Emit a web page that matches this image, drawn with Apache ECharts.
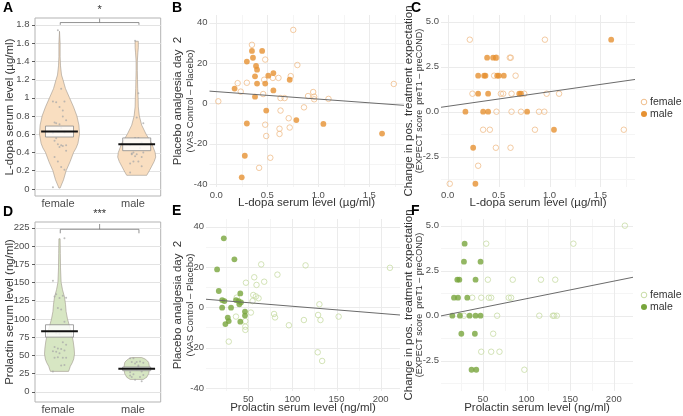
<!DOCTYPE html>
<html>
<head>
<meta charset="utf-8">
<script src="https://cdn.jsdelivr.net/npm/echarts@6/dist/echarts.min.js"></script>
<style>
  html, body { margin: 0; padding: 0; background: #fff; }
  #chart { width: 683px; height: 416px; }
</style>
</head>
<body>
<div id="chart"></div>
<script>
// ---------------- data ----------------
const groups = ['female', 'male'];
const sigLabels = ['*', '***'];

// mean and mean +/- SE boxes
const ldopaMean = [0.63, 0.49];
const ldopaSeLow = [0.57, 0.42];
const ldopaSeHigh = [0.69, 0.56];
const prlMean = [83, 31.5];
const prlSeLow = [75, 29];
const prlSeHigh = [92, 34];

// violin outlines: [level, relative half width]
const ldopaViolinFemale = [[1.73,0],[1.6,0.03],[1.45,0.03],[1.35,0.05],[1.25,0.1],[1.2,0.17],[1.1,0.3],[1.0,0.5],[0.9,0.7],[0.8,0.87],[0.7,0.97],[0.6,1.0],[0.5,0.92],[0.45,0.83],[0.4,0.7],[0.3,0.53],[0.2,0.33],[0.1,0.2],[0.01,0.03]];
const ldopaViolinMale = [[1.62,0.08],[1.55,0.08],[1.5,0.06],[1.4,0.03],[1.3,0.03],[1.2,0.04],[1.1,0.05],[1.0,0.07],[0.9,0.08],[0.8,0.13],[0.7,0.25],[0.6,0.47],[0.5,0.75],[0.4,0.92],[0.35,0.95],[0.3,0.87],[0.25,0.75],[0.2,0.63],[0.15,0.5]];
const prlViolinFemale = [[210,0.03],[190,0.04],[170,0.05],[150,0.08],[140,0.15],[130,0.25],[120,0.3],[110,0.33],[100,0.4],[90,0.5],[80,0.6],[70,0.68],[60,0.73],[52,0.75],[45,0.71],[40,0.64],[35,0.54],[30,0.48],[28,0.45]];
const prlViolinMale = [[47,0.25],[45,0.42],[42,0.55],[40,0.6],[35,0.63],[30,0.63],[25,0.6],[20,0.5],[17,0.33]];

// B: L-dopa vs placebo analgesia
const ldopaPlaceboFemale = [[0.02,1.0],[0.21,10],[0.24,5.8],[0.30,10.2],[0.35,29],[0.48,21.7],[0.47,11.7],[0.46,4.6],[0.555,12.6],[0.61,12.6],[0.63,2.6],[0.67,2.6],[0.63,-3.6],[0.73,13.5],[0.755,36.4],[0.795,19],[0.71,-7.4],[0.72,-12],[0.62,-12.6],[0.62,-15.2],[0.48,-10.6],[0.49,-16.2],[0.53,-27],[0.42,-32],[0.86,-2],[0.90,3.6],[0.95,5.6],[0.96,3.3],[0.96,2],[1.10,2.2],[1.74,9.6]];
const ldopaPlaceboMale = [[0.18,7.3],[0.35,26],[0.30,20.7],[0.36,22.6],[0.39,18.5],[0.40,16.7],[0.45,26],[0.38,13.4],[0.40,9.8],[0.48,9.8],[0.51,13.7],[0.56,15],[0.56,6.4],[0.38,3.3],[0.72,11.7],[0.49,-3.6],[0.785,-8.3],[0.30,-10],[0.28,-26],[0.25,-36.7],[1.05,-10.2],[1.625,-15]];
const fitLdopaPlacebo = [5.8, -3.7];

// C: L-dopa vs change in expectation
const ldopaExpectFemale = [[0.217,4],[0.955,4],[0.479,3],[0.61,3],[0.62,3],[0.456,2],[0.667,2],[0.243,1],[0.522,1],[0.545,1],[0.627,1],[0.752,1],[0.972,1],[1.094,1],[0.479,0],[0.627,0],[0.72,0],[0.897,0],[0.949,0],[0.348,-1],[0.414,-1],[0.857,-1],[1.73,-1],[0.473,-2],[0.617,-2],[0.299,-3],[0.02,-4]];
const ldopaExpectMale = [[1.606,4],[0.387,3],[0.446,3],[0.473,3],[0.299,2],[0.358,2],[0.371,2],[0.486,2],[0.502,2],[0.551,2],[0.299,1],[0.397,1],[0.703,1],[0.72,1],[0.174,0],[0.348,0],[0.397,0],[0.78,0],[1.044,-1],[0.25,-2],[0.272,-4]];
const fitLdopaExpect = [0.30, 0.81];

// E: prolactin vs placebo analgesia
const prlPlaceboFemale = [[27.8,-17],[36.8,4.8],[36,-4.6],[47.3,12.2],[46.6,-6.8],[46.6,-9.6],[46.6,-11.2],[52.9,-2.6],[54.8,3.1],[55.6,6.1],[56.7,14.9],[58.6,5.4],[59.3,11.1],[61.6,4.5],[64.6,21.3],[68,12.7],[79.2,-3.3],[80.3,-5],[83,16.2],[96,-8.9],[113,-6.3],[114.9,20.8],[130.6,1.5],[129.1,-3.8],[131.8,-6.3],[128.7,-22.3],[133.7,-26.6],[152.4,-4.6],[210.6,19.6]];
const prlPlaceboMale = [[22.2,34.2],[14.6,18.8],[34.2,23.8],[16.5,8.1],[20.3,3.6],[22.9,3.1],[20.3,-0.2],[30.4,-0.2],[24,-8.3],[26.7,-5.1],[27.8,-6.8],[36,3.6],[39,3.1],[40.9,6.9],[39.8,1.5],[41.7,2.5],[40.9,-7.1],[46.2,-2.1],[46.2,-4.1]];
const fitPrlPlacebo = [4.07, -0.0355];

// F: prolactin vs change in expectation
const prlExpectFemale = [[212.7,5],[53.8,4],[153.7,4],[55.7,2],[84.2,2],[116.5,2],[132.9,2],[37.8,1],[48.1,1],[56.8,1],[59.5,1],[79.6,1],[82.3,1],[28.3,0],[66.3,0],[114.6,0],[130.2,0],[131.7,0],[134.7,0],[61.8,-1],[48.1,-2],[59.5,-2],[69,-2],[97.5,-3]];
const prlExpectMale = [[29.1,4],[28.3,3],[47.3,3],[20.7,2],[23,2],[41.6,2],[16.9,1],[21.5,1],[32.1,1],[15,0],[23.7,0],[34.8,0],[41.6,0],[47.3,0],[25.3,-1],[40.8,-1],[37,-3],[42.4,-3]];
const fitPrlExpect = [-0.03, 0.00975];

// tick labels / grid breaks
const ldopaTicks = [0, 0.2, 0.4, 0.6, 0.8, 1, 1.2, 1.4, 1.6, 1.8];
const prlTicks = [0, 25, 50, 75, 100, 125, 150, 175, 200, 225];
const ldopaXTicks = [0, 0.5, 1, 1.5];
const ldopaXMinor = [0.25, 0.75, 1.25, 1.75];
const prlXTicks = [50, 100, 150, 200];
const prlXMinor = [25, 75, 125, 175];
const placeboTicks = [-40, -20, 0, 20, 40];
const placeboMinor = [-30, -10, 10, 30];
const expectTicks = [-2.5, 0, 2.5, 5];
const expectMinor = [-3.75, -1.25, 1.25, 3.75];

// ---------------- styling ----------------
const FONT = '"Liberation Sans", Arial, sans-serif';
const ORANGE_F = '#F0BE8C', ORANGE_M = '#E69132', ORANGE_V = '#F9DEC0';
const GREEN_F = '#C8DCA5', GREEN_M = '#78A53C', GREEN_V = '#D7E6C3';
const violinPos = [1.02, 2.05];
const violinHalf = 0.267, boxHalf = 0.187, meanHalf = 0.245;
const ldopaRange = [-0.066, 1.84], prlRange = [2, 222];

const chart = echarts.init(document.getElementById('chart'), null, { renderer: 'canvas' });

function gridSeries(idx, xMajor, xMinor, yMajor, yMinor, majorColor, minorColor) {
  const data = [];
  xMinor.forEach(v => data.push([v, 0, 1]));
  yMinor.forEach(v => data.push([v, 1, 1]));
  xMajor.forEach(v => data.push([v, 0, 0]));
  yMajor.forEach(v => data.push([v, 1, 0]));
  return {
    type: 'custom', xAxisIndex: idx, yAxisIndex: idx, silent: true, z: 1, data,
    renderItem(params, api) {
      const cs = params.coordSys;
      const v = api.value(0);
      const style = { stroke: api.value(2) ? minorColor : majorColor, lineWidth: 1 };
      if (api.value(1) === 0) {
        const x = Math.round(api.coord([v, 0])[0]) + 0.5;
        return { type: 'line', shape: { x1: x, y1: cs.y, x2: x, y2: cs.y + cs.height }, style };
      }
      const y = Math.round(api.coord([0, v])[1]) + 0.5;
      return { type: 'line', shape: { x1: cs.x, y1: y, x2: cs.x + cs.width, y2: y }, style };
    }
  };
}

// y tick labels drawn next to the panel through its own scale
function yLabelSeries(idx, values, fmt, margin) {
  return {
    type: 'custom', xAxisIndex: idx, yAxisIndex: idx, silent: true, z: 8,
    data: values.map(v => [0, v]),
    renderItem(params, api) {
      const cs = params.coordSys;
      const v = api.value(1);
      const y = api.coord([0, v])[1];
      return { type: 'text', x: cs.x - margin, y,
        style: { text: fmt(v), font: '9.5px ' + FONT, fill: '#4D4D4D',
          align: 'right', verticalAlign: 'middle', textAlign: 'right', textVerticalAlign: 'middle' } };
    }
  };
}

function violinSeries(idx, profiles, fill) {
  return {
    type: 'custom', xAxisIndex: idx, yAxisIndex: idx, silent: true, z: 2,
    data: violinPos.map((c, i) => [c, i]),
    renderItem(params, api) {
      const c = api.value(0);
      const prof = profiles[params.dataIndex];
      const right = prof.map(p => api.coord([c + p[1] * violinHalf, p[0]]));
      const left = prof.slice().reverse().map(p => api.coord([c - p[1] * violinHalf, p[0]]));
      return { type: 'polygon', shape: { points: right.concat(left) },
        style: { fill, stroke: '#9d968c', lineWidth: 0.6 } };
    }
  };
}

function jitterSeries(idx, values) {
  const data = [];
  values.forEach((vals, g) => vals.forEach((v, i) => {
    data.push([violinPos[g] + (((i * 7) % 9) - 4) * 0.022, v]);
  }));
  return { type: 'scatter', xAxisIndex: idx, yAxisIndex: idx, silent: true, z: 3,
    symbolSize: 2, data, itemStyle: { color: '#a8a8a8', opacity: 0.75 } };
}

function boxSeries(idx, low, high, mean) {
  return {
    type: 'custom', xAxisIndex: idx, yAxisIndex: idx, silent: true, z: 4,
    data: violinPos.map((c, i) => [c, mean[i], low[i], high[i]]),
    renderItem(params, api) {
      const c = api.value(0);
      const p1 = api.coord([c - boxHalf, api.value(3)]);
      const p2 = api.coord([c + boxHalf, api.value(2)]);
      const m1 = api.coord([c - meanHalf, api.value(1)]);
      const m2 = api.coord([c + meanHalf, api.value(1)]);
      return { type: 'group', children: [
        { type: 'rect', shape: { x: p1[0], y: p1[1], width: p2[0] - p1[0], height: p2[1] - p1[1] },
          style: { fill: 'rgba(255,255,255,0.8)', stroke: '#8a8a8a', lineWidth: 0.8 } },
        { type: 'line', shape: { x1: m1[0], y1: m1[1], x2: m2[0], y2: m2[1] },
          style: { stroke: '#111', lineWidth: 2 } }
      ] };
    }
  };
}

function bracketSeries(idx, label, yEnd, yBar, yTip, yText) {
  return {
    type: 'custom', xAxisIndex: idx, yAxisIndex: idx, silent: true, z: 5,
    data: [[1.03, yBar]],
    renderItem(params, api) {
      const a = api.coord([1.03, yEnd]), b = api.coord([1.03, yBar]);
      const c = api.coord([2.08, yBar]), d = api.coord([2.08, yEnd]);
      const mid = (b[0] + c[0]) / 2;
      const tip = api.coord([1.5, yTip])[1];
      const t = api.coord([1.5, yText])[1];
      const st = { stroke: '#777', lineWidth: 0.8, fill: null };
      return { type: 'group', children: [
        { type: 'polyline', shape: { points: [a, b, c, d] }, style: st },
        { type: 'line', shape: { x1: mid, y1: b[1], x2: mid, y2: tip }, style: st },
        { type: 'text', x: mid, y: t, style: { text: label, font: '11px ' + FONT, fill: '#333',
          align: 'center', verticalAlign: 'middle', textAlign: 'center', textVerticalAlign: 'middle' } }
      ] };
    }
  };
}

function scatter(idx, name, data, open, color) {
  return {
    type: 'scatter', name, xAxisIndex: idx, yAxisIndex: idx, z: 6, silent: true, data,
    symbolSize: open ? 5.5 : 5.8,
    itemStyle: open ? { color: 'rgba(255,255,255,0)', borderColor: color, borderWidth: 1 }
                    : { color: color, borderWidth: 0 }
  };
}

function fitLine(idx, fit, xr) {
  return {
    type: 'line', xAxisIndex: idx, yAxisIndex: idx, silent: true, z: 7, symbol: 'none',
    data: xr.map(x => [x, fit[0] + fit[1] * x]),
    lineStyle: { color: '#6b6b6b', width: 1 }
  };
}

const f1 = v => String(Math.round(v * 10) / 10);
const fFix = v => (Math.round(v * 10) / 10).toFixed(1);
const fInt = v => String(Math.round(v));

function axis(idx, min, max, labels, fmt, opts) {
  opts = opts || {};
  return {
    type: 'value', gridIndex: idx, min, max,
    axisLine: { show: false },
    axisTick: opts.ticks ? { show: true, customValues: labels, length: 3, lineStyle: { color: '#333', width: 0.8 } } : { show: false },
    splitLine: { show: false },
    axisLabel: { show: !opts.noLabel, customValues: labels, formatter: fmt, color: '#4D4D4D', fontFamily: FONT,
      fontSize: opts.size || 9.5, margin: opts.margin == null ? 3 : opts.margin, hideOverlap: false }
  };
}

function text(x, y, str, size, opts) {
  opts = opts || {};
  return { type: 'text', x, y, rotation: opts.rot ? Math.PI / 2 : 0, silent: true,
    style: { text: str, font: (opts.bold ? 'bold ' : '') + size + 'px ' + FONT, fill: opts.color || '#333',
      align: opts.align || 'center', verticalAlign: opts.valign || 'middle',
      textAlign: opts.align || 'center', textVerticalAlign: opts.valign || 'middle' } };
}

function legend(x, y, colF, colM) {
  return [
    { type: 'circle', shape: { cx: x, cy: y, r: 2.8 }, style: { fill: 'none', stroke: colF, lineWidth: 1 }, silent: true },
    { type: 'circle', shape: { cx: x, cy: y + 12, r: 3 }, style: { fill: colM }, silent: true },
    text(x + 6, y, 'female', 10.5, { align: 'left', color: '#333' }),
    text(x + 6, y + 12, 'male', 10.5, { align: 'left', color: '#333' })
  ];
}

const option = {
  animation: false,
  backgroundColor: '#fff',
  grid: [
    { left: 35, top: 18, width: 125.7, height: 178, show: true, borderColor: '#B3B3B3', borderWidth: 1, backgroundColor: 'transparent' },
    { left: 209.5, top: 15, width: 194.5, height: 172 },
    { left: 441, top: 15, width: 194, height: 172 },
    { left: 35, top: 222, width: 125.7, height: 180, show: true, borderColor: '#B3B3B3', borderWidth: 1, backgroundColor: 'transparent' },
    { left: 206, top: 219, width: 194, height: 172 },
    { left: 441, top: 219, width: 192, height: 172 }
  ],
  xAxis: [
    axis(0, 0.693, 2.37, [1, 2], v => groups[Math.round(v) - 1], { size: 11, margin: 2 }),
    axis(1, ldopaRange[0], ldopaRange[1], ldopaXTicks, fFix),
    axis(2, ldopaRange[0], ldopaRange[1], ldopaXTicks, fFix),
    axis(3, 0.693, 2.37, [1, 2], v => groups[Math.round(v) - 1], { size: 11, margin: 2 }),
    axis(4, prlRange[0], prlRange[1], prlXTicks, fInt),
    axis(5, prlRange[0], prlRange[1], prlXTicks, fInt)
  ],
  yAxis: [
    axis(0, -0.077, 1.875, ldopaTicks, f1, { ticks: true, margin: 5.5 }),
    axis(1, -41.5, 43.8, placeboTicks, fInt, { margin: 2 }),
    axis(2, -4.18, 5.37, expectTicks, fFix, { noLabel: true }),
    axis(3, -14, 233, prlTicks, fInt, { ticks: true, margin: 5.5 }),
    axis(4, -41.5, 43.8, placeboTicks, fInt, { margin: 2 }),
    axis(5, -4.18, 5.37, expectTicks, fFix, { noLabel: true })
  ],
  series: [
    // A
    gridSeries(0, [], [], ldopaTicks, [], '#E3E3E3', '#F0F0F0'),
    violinSeries(0, [ldopaViolinFemale, ldopaViolinMale], ORANGE_V),
    jitterSeries(0, [ldopaPlaceboFemale.map(p => p[0]), ldopaPlaceboMale.map(p => p[0])]),
    boxSeries(0, ldopaSeLow, ldopaSeHigh, ldopaMean),
    bracketSeries(0, sigLabels[0], 1.8, 1.825, 1.868, 1.963),
    // B
    gridSeries(1, ldopaXTicks, ldopaXMinor, placeboTicks, placeboMinor, '#EBEBEB', '#F5F5F5'),
    scatter(1, 'female', ldopaPlaceboFemale, true, ORANGE_F),
    scatter(1, 'male', ldopaPlaceboMale, false, ORANGE_M),
    fitLine(1, fitLdopaPlacebo, ldopaRange),
    // C
    gridSeries(2, ldopaXTicks, ldopaXMinor, expectTicks, expectMinor, '#EBEBEB', '#F5F5F5'),
    yLabelSeries(2, expectTicks, fFix, 2),
    scatter(2, 'female', ldopaExpectFemale, true, ORANGE_F),
    scatter(2, 'male', ldopaExpectMale, false, ORANGE_M),
    fitLine(2, fitLdopaExpect, ldopaRange),
    // D
    gridSeries(3, [], [], prlTicks, [], '#E3E3E3', '#F0F0F0'),
    violinSeries(3, [prlViolinFemale, prlViolinMale], GREEN_V),
    jitterSeries(3, [prlPlaceboFemale.map(p => p[0]), prlPlaceboMale.map(p => p[0])]),
    boxSeries(3, prlSeLow, prlSeHigh, prlMean),
    bracketSeries(3, sigLabels[1], 217.5, 223, 230.3, 244),
    // E
    gridSeries(4, prlXTicks, prlXMinor, placeboTicks, placeboMinor, '#EBEBEB', '#F5F5F5'),
    scatter(4, 'female', prlPlaceboFemale, true, GREEN_F),
    scatter(4, 'male', prlPlaceboMale, false, GREEN_M),
    fitLine(4, fitPrlPlacebo, prlRange),
    // F
    gridSeries(5, prlXTicks, prlXMinor, expectTicks, expectMinor, '#EBEBEB', '#F5F5F5'),
    yLabelSeries(5, expectTicks, fFix, 2),
    scatter(5, 'female', prlExpectFemale, true, GREEN_F),
    scatter(5, 'male', prlExpectMale, false, GREEN_M),
    fitLine(5, fitPrlExpect, prlRange)
  ],
  graphic: [
    text(3, 1, 'A', 14, { bold: true, align: 'left', valign: 'top', color: '#000' }),
    text(172, 1, 'B', 14, { bold: true, align: 'left', valign: 'top', color: '#000' }),
    text(411, 1, 'C', 14, { bold: true, align: 'left', valign: 'top', color: '#000' }),
    text(3, 205, 'D', 14, { bold: true, align: 'left', valign: 'top', color: '#000' }),
    text(172, 204, 'E', 14, { bold: true, align: 'left', valign: 'top', color: '#000' }),
    text(411, 204, 'F', 14, { bold: true, align: 'left', valign: 'top', color: '#000' }),

    text(9.5, 107, 'L-dopa serum level (µg/ml)', 11.5, { rot: true }),
    text(9.5, 312, 'Prolactin serum level (ng/ml)', 11.5, { rot: true }),

    text(177.5, 101, 'Placebo analgesia day  2', 11.5, { rot: true }),
    text(190, 101, '(VAS Control – Placebo)', 9.5, { rot: true }),
    text(408.5, 101, 'Change in pos. treatment expectation', 11.5, { rot: true }),
    text(419.5, 101, '(EXPECT score  preT1 – preCOND)', 9, { rot: true }),
    text(177.5, 305, 'Placebo analgesia day  2', 11.5, { rot: true }),
    text(190, 305, '(VAS Control – Placebo)', 9.5, { rot: true }),
    text(408.5, 305, 'Change in pos. treatment expectation', 11.5, { rot: true }),
    text(419.5, 305, '(EXPECT score  preT1 – preCOND)', 9, { rot: true }),

    text(306.5, 203, 'L-dopa serum level (µg/ml)', 11.5),
    text(538, 203, 'L-dopa serum level (µg/ml)', 11.5),
    text(303, 408, 'Prolactin serum level (ng/ml)', 11.5),
    text(537, 408, 'Prolactin serum level (ng/ml)', 11.5)
  ].concat(legend(644, 102, ORANGE_F, ORANGE_M), legend(644, 295, GREEN_F, GREEN_M))
};

chart.setOption(option);
</script>
</body>
</html>
